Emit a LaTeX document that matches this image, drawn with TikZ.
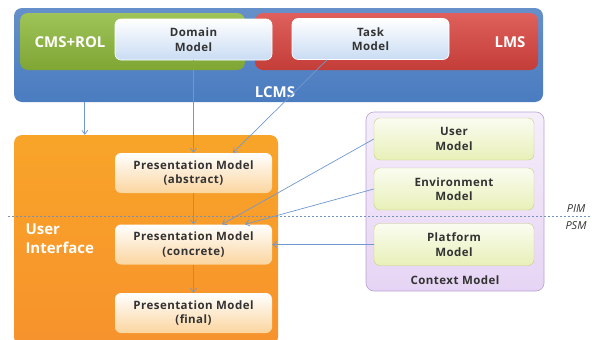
\documentclass[tikz,border=0pt]{standalone}
\usepackage{fontspec}
\setmainfont{Open Sans}
\newfontfamily\boxfont{Open Sans}[LetterSpace=4.0]
\usepackage{tikz}
\usetikzlibrary{arrows.meta}

\definecolor{lcmsblue}{HTML}{4A7CC0}
\definecolor{cmsgreen}{HTML}{8DB83A}
\definecolor{lmsred}{HTML}{D9443F}
\definecolor{uiorange}{HTML}{F79A2E}
\definecolor{connblue}{HTML}{7098CF}
\definecolor{ctxlila}{HTML}{E6D4F4}
\definecolor{ctxedge}{HTML}{B9A2D4}
\definecolor{txtgray}{HTML}{333333}
\definecolor{srcblue}{HTML}{C9DCF3}
\definecolor{prespeach}{HTML}{FBD59F}
\definecolor{ctxlime}{HTML}{E8F0B8}

\begin{document}
\begin{tikzpicture}[x=1pt, y=-1pt,
	area/.style={rounded corners=8pt, inner sep=0pt},
	arealabel/.style={text=white, font=\bfseries\fontsize{15}{17}\selectfont, align=left},
	modeltext/.style={text=txtgray, font=\boxfont\bfseries\fontsize{11.5}{14.5}\selectfont, align=center},
	srcmodel/.style={modeltext, rounded corners=6pt, draw=white, line width=0.6pt, top color=white, bottom color=srcblue, minimum width=157pt, minimum height=41pt},
	presmodel/.style={modeltext, rounded corners=6pt, top color=white, bottom color=prespeach, minimum width=157pt, minimum height=40pt},
	ctxmodel/.style={modeltext, rounded corners=6pt, draw=ctxlime!70!olive, top color=white!80!ctxlime, bottom color=ctxlime, minimum width=160pt, minimum height=42pt},
	conn/.style={draw=connblue, line width=0.7pt, -{Straight Barb[length=4pt,width=6pt]}}]
	\useasboundingbox (0,0) rectangle (592,340);
	\node (lcms) at (278.5,55) [area, top color=lcmsblue!85!white, bottom color=lcmsblue, minimum width=529pt, minimum height=94pt] {};
	\node (cms) at (132.5,41.5) [area, top color=cmsgreen!85!white, bottom color=cmsgreen!90!black, minimum width=225pt, minimum height=57pt] {};
	\node (lms) at (396.5,41.5) [area, top color=lmsred!85!white, bottom color=lmsred!90!black, minimum width=283pt, minimum height=57pt] {};
	\node (ui) at (146,240) [area, top color=uiorange!90!yellow, bottom color=uiorange!95!red, minimum width=264pt, minimum height=210pt] {};
	\node (ctx) at (455,201.5) [area, draw=ctxedge, line width=0.6pt, top color=ctxlila!40!white, bottom color=ctxlila, minimum width=178pt, minimum height=179pt] {};
		\node (cmslabel) at (70,42) [arealabel] {CMS+ROL};
		\node (lmslabel) at (510,42) [arealabel] {LMS};
		\node (lcmslabel) at (275,92) [arealabel] {LCMS};
		\node (uilabel) at (22,239) [arealabel, anchor=west, font=\bfseries\fontsize{15}{19}\selectfont] {User\\Interface};
		\node (ctxlabel) at (455,280) [modeltext] {Context Model};
		\node (pim) at (576,209) [text=txtgray, font=\itshape\fontsize{11}{13}\selectfont] {PIM};
		\node (psm) at (576,226) [text=txtgray, font=\itshape\fontsize{11}{13}\selectfont] {PSM};
	\coordinate (pimleft) at (8,216);
	\coordinate (pimright) at (592,216);
	\draw[connblue!80!gray, dash pattern=on 2pt off 2pt, line width=0.6pt] (pimleft) -- (pimright);
			\node (domain) at (193.5,39.5) [srcmodel] {Domain\\Model};
			\node (task) at (370.5,39) [srcmodel] {Task\\Model};
			\node (pabs) at (193.5,173) [presmodel] {Presentation Model\\(abstract)};
			\node (pcon) at (193.5,244.5) [presmodel] {Presentation Model\\(concrete)};
			\node (pfin) at (193.5,313) [presmodel] {Presentation Model\\(final)};
			\node (user) at (454,139) [ctxmodel] {User\\Model};
			\node (env) at (454,189) [ctxmodel] {Environment\\Model};
			\node (plat) at (454,244.5) [ctxmodel] {Platform\\Model};
	\draw[conn] ([xshift=71pt]lcms.south west) to ([xshift=71pt]ui.north west);
	\draw[conn] (domain.south) to (pabs.north);
	\draw[conn] ([xshift=-43.5pt]task.south) to ([xshift=39.5pt]pabs.north);
	\draw[conn] (pabs.south) to (pcon.north);
	\draw[conn] (pcon.south) to (pfin.north);
	\draw[conn] (user.west) to ([xshift=28.5pt]pcon.north);
	\draw[conn] (env.west) to ([xshift=51.5pt]pcon.north);
	\draw[conn] (plat.west) to (pcon.east);
\end{tikzpicture}
\end{document}
